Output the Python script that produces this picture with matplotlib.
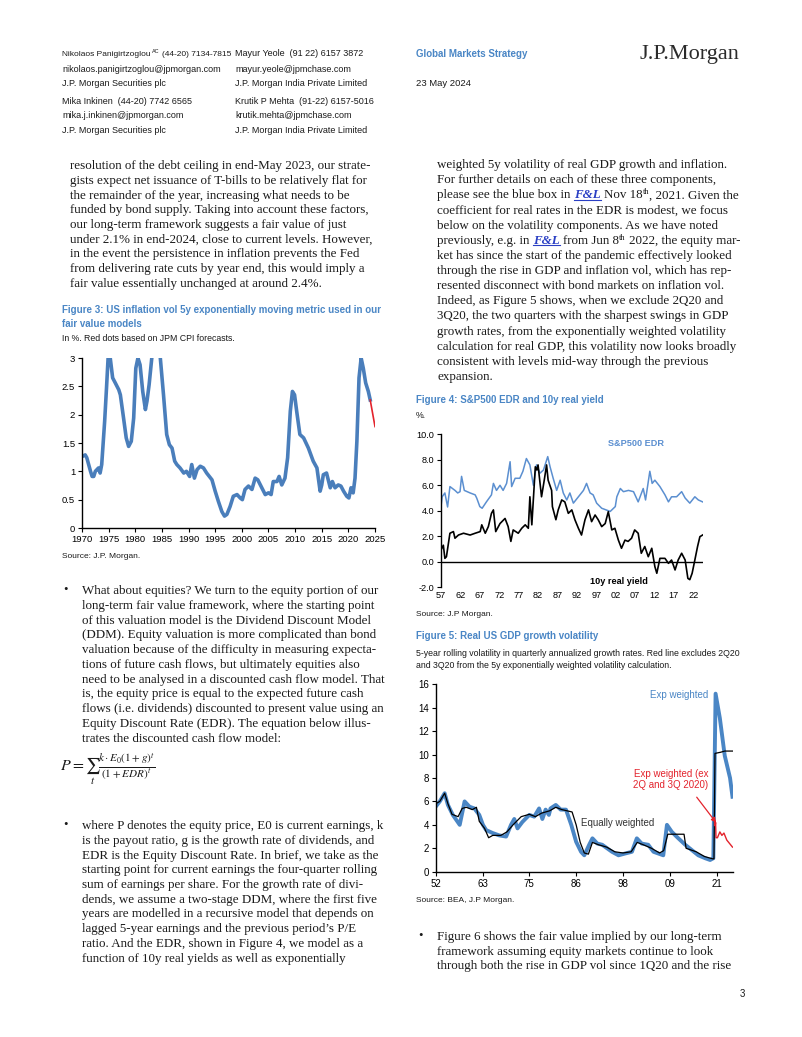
import matplotlib
matplotlib.use('Agg')
import matplotlib.pyplot as plt
from matplotlib.lines import Line2D

# ---- data: Figure 3 (US inflation vol, %)
fig3_years = [1970, 1970.6, 1970.9, 1971.6, 1971.9, 1972.2, 1972.5, 1972.8, 1973.1, 1973.4, 1973.7,
              1974.25, 1974.6, 1974.9, 1975.15, 1975.3, 1975.75, 1976.25, 1976.9, 1977.2, 1977.8,
              1978.3, 1978.75, 1979.25, 1979.7, 1980.1, 1980.5, 1980.9, 1981.4, 1981.9, 1982.2,
              1982.6, 1983.1, 1983.8, 1984.7, 1985.3, 1985.9, 1986.4, 1986.9, 1987.4, 1987.8,
              1988.4, 1989.1, 1989.6, 1990.2, 1990.6, 1991.1, 1991.6, 1992.2, 1992.8, 1993.4,
              1994.4, 1995.0, 1995.6, 1996.25, 1996.75, 1997.2, 1997.8, 1998.4, 1999.1, 1999.7,
              2000.1, 2000.6, 2001.25, 2001.9, 2002.5, 2003.0, 2003.75, 2004.4, 2005.0, 2005.5,
              2005.9, 2006.6, 2007.0, 2007.5, 2008.1, 2008.6, 2009.1, 2009.5, 2009.9, 2010.3,
              2010.9, 2011.6, 2011.9, 2012.5, 2013.4, 2014.1, 2014.7, 2015.0, 2015.3, 2015.9,
              2016.6, 2017.0, 2017.5, 2018.1, 2018.6, 2019.1, 2019.7, 2020.1, 2020.5, 2020.9,
              2021.25, 2021.6, 2022.0, 2022.4, 2022.8, 2023.25, 2023.75, 2024.1]
fig3_vol = [1.26, 1.29, 1.24, 1.0, 0.91, 0.91, 1.0, 1.03, 1.06, 0.97, 1.12,
            1.88, 2.47, 3.0, 3.3, 3.0, 2.65, 2.56, 2.44, 2.35, 1.94,
            1.59, 1.44, 1.53, 1.94, 2.82, 3.0, 2.88, 2.41, 2.09, 2.24,
            2.53, 3.0, 3.5, 3.0, 2.35, 1.65, 1.47, 1.41, 1.18, 1.12,
            1.06, 0.97, 1.0, 0.91, 1.12, 0.88, 1.03, 1.09, 1.06, 0.97,
            0.85, 0.65, 0.47, 0.29, 0.21, 0.24, 0.38, 0.56, 0.59, 0.53,
            0.5, 0.68, 0.74, 0.68, 0.88, 0.85, 0.71, 0.59, 0.62, 0.59,
            0.82, 0.82, 0.91, 0.76, 0.88, 1.24, 2.06, 2.41, 2.35, 2.06,
            1.65, 1.59, 1.53, 1.41, 1.18, 1.06, 0.65, 0.76, 0.94, 0.97,
            0.71, 0.82, 0.71, 0.76, 0.74, 0.65, 0.56, 0.53, 0.71, 0.62,
            0.88, 1.53, 2.65, 3.0, 2.82, 2.56, 2.41, 2.26]
fig3_fc_years = [2024.1, 2025.0]
fig3_fc_vol = [2.26, 1.79]

# ---- data: Figure 4 (S&P500 EDR and 10y real yield, %)
edr_years = [1957, 1957.3, 1958, 1958.7, 1959.3, 1960.6, 1961.3, 1961.9, 1962.3, 1963, 1964.5,
             1965.8, 1966.2, 1967.0, 1967.6, 1968.7, 1970, 1970.5, 1971.3, 1972.2, 1973, 1973.9,
             1974.8, 1975.2, 1976.1, 1977.3, 1978.1, 1979, 1979.9, 1980.8, 1981.6, 1982.5,
             1983.4, 1984.5, 1985.1, 1985.9, 1986.8, 1987.7, 1988.5, 1989.4, 1990.2, 1991.1,
             1992.4, 1993.7, 1994.5, 1995.4, 1996.2, 1997.1, 1998.4, 2000.6, 2001.9, 2002.3,
             2003.2, 2004.0, 2005.3, 2006.6, 2007.8, 2009.1, 2009.7, 2010.8, 2011.4, 2012.1,
             2013.4, 2014.7, 2015.6, 2016.4, 2017.7, 2019.0, 2019.9, 2021.1, 2022.4, 2023.3, 2024.4]
edr_vals = [4.33, 5.1, 5.4, 4.3, 5.9, 5.6, 5.4, 5.5, 6.7, 5.6, 5.4,
            5.25, 5.0, 4.33, 4.2, 4.7, 5.25, 6.15, 5.6, 6.0, 5.6, 6.15,
            7.85, 5.9, 6.55, 6.55, 7.1, 8.1, 7.6, 6.0, 7.6, 6.95,
            7.2, 8.25, 7.45, 6.55, 5.6, 6.4, 5.4, 4.85, 5.4, 4.6,
            5.1, 5.6, 6.15, 5.4, 5.25, 4.6, 4.2, 3.95, 4.33, 5.1,
            5.75, 5.5, 5.6, 5.5, 4.7, 5.75, 4.85, 7.1, 6.15, 6.4,
            5.9, 5.25, 4.7, 5.1, 5.1, 5.5, 5.0, 4.6, 5.1, 4.85, 4.7]
ry_years = [1957, 1957.6, 1958, 1958.4, 1959.3, 1960.2, 1960.6, 1961.5, 1962.8, 1964.5, 1965.8,
            1967.1, 1967.5, 1968.4, 1969.2, 1970, 1970.5, 1971.1, 1972.2, 1973.5, 1974.3, 1975,
            1975.6, 1976.9, 1977.8, 1978.7, 1979.5, 1979.9, 1980.4, 1981.3, 1981.7, 1982,
            1982.9, 1983.6, 1984.2, 1984.6, 1985.5, 1985.7, 1986.6, 1987.2, 1988.1, 1988.9,
            1989.8, 1990.7, 1991.5, 1992.4, 1993.2, 1994.1, 1995, 1995.8, 1996.7, 1997.5,
            1998.4, 1999.3, 2000.1, 2001.0, 2001.8, 2002.7, 2003.5, 2004.4, 2005.2, 2006.1,
            2006.9, 2007.8, 2008.6, 2009.5, 2010.4, 2011.3, 2012.1, 2012.6, 2013.4, 2014.7,
            2015.6, 2016.4, 2017.3, 2018.1, 2019.0, 2019.9, 2020.6, 2021.1, 2021.7, 2022.4,
            2023.1, 2023.7, 2024.4]
ry_vals = [0.93, 1.3, 0.27, 0.4, 2.24, 2.37, 1.85, 2.1, 2.24, 2.1, 2.24,
           2.37, 2.9, 2.24, 2.76, 3.8, 4.07, 2.37, 3.0, 3.4, 2.76, 1.6,
           2.5, 2.24, 2.63, 2.9, 2.63, 5.1, 2.9, 7.45, 7.2, 7.6,
           5.1, 6.4, 7.6, 6.4, 5.6, 4.33, 3.3, 4.07, 4.85, 4.7,
           3.8, 4.07, 3.3, 2.63, 2.1, 3.3, 4.07, 3.15, 3.67, 3.3,
           2.76, 3.0, 3.93, 2.5, 2.63, 1.7, 1.06, 1.7, 1.6, 1.85,
           2.5, 2.24, 0.67, 1.2, 0.4, 1.06, -0.38, -0.9, 0.27, 0.27,
           -0.12, 0.14, -0.64, 0.14, 0.67, 0.14, -1.3, -1.4, -0.9, 0.14,
           1.2, 1.97, 2.1]

# ---- data: Figure 5 (real GDP growth volatility)
exp_years = [1952, 1953, 1954.2, 1955, 1956.2, 1957.9, 1959.1, 1960.3, 1961.5, 1962.7, 1963.6,
             1964.4, 1966, 1967.6, 1969.3, 1970.5, 1971.3, 1972.1, 1973.3, 1975, 1976.2, 1977.4,
             1978.2, 1979, 1979.8, 1980.2, 1981.5, 1982.7, 1984, 1985.3, 1986.5, 1987.7, 1988.5,
             1989.7, 1990.5, 1991.7, 1992.9, 1995.3, 1996.9, 1998.5, 2000.2, 2001.4, 2002.6,
             2004.2, 2005.5, 2006.7, 2007.9, 2008.8, 2010, 2011.6, 2013.3, 2014.9, 2016.5,
             2018.2, 2019.4, 2020.2, 2020.75, 2021.8, 2023, 2024.3, 2024.9]
exp_vals = [5.55, 6.0, 6.7, 5.7, 4.85, 4.0, 6.0, 5.55, 5.4, 4.85, 4.0,
            3.55, 3.3, 3.1, 3.0, 4.0, 4.5, 3.7, 4.25, 4.85, 4.7, 5.4,
            4.5, 5.3, 4.85, 5.4, 5.7, 5.3, 5.3, 4.0, 2.55, 1.7, 1.4,
            2.3, 2.85, 2.4, 2.3, 1.7, 1.4, 1.55, 1.7, 2.85, 2.4,
            2.3, 1.7, 1.55, 1.4, 4.0, 3.4, 2.85, 2.3, 1.85, 1.4,
            1.15, 1.0, 1.15, 15.2, 13.1, 9.9, 8.0, 6.4]
eq_years = [1952, 1953, 1954.2, 1955, 1956, 1957.5, 1958.5, 1959.5, 1961, 1962, 1962.7,
            1964, 1965, 1966, 1968, 1969.5, 1971, 1973, 1975, 1976.5, 1978, 1980, 1981.5,
            1983, 1985.5, 1986.5, 1987.5, 1988.5, 1989.5, 1990.5, 1992, 1994, 1996, 1998,
            2000, 2001.5, 2003, 2005, 2007, 2008, 2009, 2011, 2013, 2013.5, 2016, 2018, 2020,
            2020.35, 2020.6, 2022, 2023, 2024.9]
eq_vals = [5.8, 6.0, 6.7, 5.8, 4.9, 4.7, 5.4, 5.5, 5.3, 5.5, 4.3,
           3.7, 2.9, 3.1, 3.1, 3.4, 4.0, 4.7, 4.9, 4.7, 5.0, 5.2, 5.5,
           5.3, 5.1, 4.0, 2.5, 1.6, 1.5, 2.5, 2.3, 2.1, 1.7, 1.6,
           1.7, 2.5, 2.3, 2.0, 1.6, 1.8, 3.2, 3.2, 3.2, 2.0, 1.7, 1.3, 1.1,
           1.1, 10.1, 10.2, 10.3, 10.3]
exx_years = [2020.55, 2020.65, 2020.75, 2020.85, 2021.2, 2021.8, 2022.3, 2022.8, 2023.5, 2024.9]
exx_vals = [4.3, 3.9, 4.2, 2.9, 2.9, 3.4, 3.1, 3.3, 2.7, 2.1]

fig5_tick_pos = [1952, 1963.5, 1975, 1986.5, 1998, 2009.5, 2021]
fig5_tick_lab = ['52', '63', '75', '86', '98', '09', '21']

# ---- styling
W, H = 802, 1037
BLUE = '#4a86c5'
LINE_BLUE = '#4a7ebb'
RED = '#e3232c'
TXT = '#1a1a1a'
SERIF = ['Liberation Serif', 'DejaVu Serif']
SANS = ['Liberation Sans', 'DejaVu Sans']
BODY = 9.4
HEAD = 6.5
TITLE = 7.0
SMALL = 6.3

plt.rcParams['mathtext.fontset'] = 'stix'

fig = plt.figure(figsize=(W / 100, H / 100), dpi=100)
renderer = fig.canvas.get_renderer()


def fx(x):
    return x / W


def fy(y):
    return 1 - y / H


def txt(x, y, s, size=HEAD, family=SANS, **kw):
    kw.setdefault('va', 'center')
    kw.setdefault('color', TXT)
    return fig.text(fx(x), fy(y), s, size=size, family=family, **kw)


def rich(x, y, parts, size=BODY, family=SERIF, up=4):
    # y = text centre; parts drawn left to right
    base = y + up
    for p in parts:
        if isinstance(p, str):
            p = (p, {})
        s, kw = p
        kw = dict(kw)
        dy = kw.pop('dy', 0)
        ul = kw.pop('ul', False)
        sz = kw.pop('size', size)
        lead = len(s) - len(s.lstrip(' '))
        trail = len(s) - len(s.rstrip(' '))
        sp = sz * 100 / 72 * 0.26
        x += lead * sp
        core = s.strip(' ')
        t = fig.text(fx(x), fy(base + dy), core, size=sz, family=family, va='baseline',
                     color=kw.pop('color', TXT), **kw)
        w = t.get_window_extent(renderer).width
        if ul:
            fig.add_artist(Line2D([fx(x), fx(x + w)], [fy(base + 1.5)] * 2, color='#2a3fc4', lw=0.8))
        x += w + trail * sp


def body(x, y0, lines, step=14.75):
    for i, ln in enumerate(lines):
        rich(x, y0 + i * step, ln if isinstance(ln, list) else [ln])


def axes_px(l, t, r, b):
    ax = fig.add_axes([fx(l), fy(b), (r - l) / W, (b - t) / H])
    ax.set_facecolor('none')
    for s in ['top', 'right']:
        ax.spines[s].set_visible(False)
    for s in ['left', 'bottom']:
        ax.spines[s].set_linewidth(1.0)
    ax.tick_params(labelsize=7.0, length=3, width=0.8, pad=2)
    return ax


def sans_ticks(ax):
    for lab in ax.get_xticklabels() + ax.get_yticklabels():
        lab.set_family(SANS)


# ---- header
rich(62, 54, ['Nikolaos Panigirtzoglou', (' AC', {'size': 4.0, 'dy': -3}), ' (44-20) 7134-7815'],
     size=6.0, family=SANS, up=2.3)
txt(62, 69, 'nikolaos.panigirtzoglou@jpmorgan.com')
txt(62, 84, 'J.P. Morgan Securities plc')
txt(62, 101, 'Mika Inkinen  (44-20) 7742 6565')
txt(62, 116, 'mika.j.inkinen@jpmorgan.com')
txt(62, 131, 'J.P. Morgan Securities plc')
txt(235, 54, 'Mayur Yeole  (91 22) 6157 3872')
txt(235, 69, 'mayur.yeole@jpmchase.com')
txt(235, 84, 'J.P. Morgan India Private Limited')
txt(235, 101, 'Krutik P Mehta  (91-22) 6157-5016')
txt(235, 116, 'krutik.mehta@jpmchase.com')
txt(235, 131, 'J.P. Morgan India Private Limited')
txt(416, 54, 'Global Markets Strategy', size=7.0, color=BLUE, weight='bold')
txt(416, 83, '23 May 2024', size=6.8)
txt(640, 55, 'J.P.Morgan', size=16, family=SERIF, color='#2b2b2b')

# ---- left column text
body(70, 165, [
    'resolution of the debt ceiling in end-May 2023, our strate-',
    'gists expect net issuance of T-bills to be relatively flat for',
    'the remainder of the year, increasing what needs to be',
    'funded by bond supply. Taking into account these factors,',
    'our long-term framework suggests a fair value of just',
    'under 2.1% in end-2024, close to current levels. However,',
    'in the event the persistence in inflation prevents the Fed',
    'from delivering rate cuts by year end, this would imply a',
    'fair value essentially unchanged at around 2.4%.',
])

txt(62, 310, 'Figure 3: US inflation vol 5y exponentially moving metric used in our',
    size=TITLE, color=BLUE, weight='bold')
txt(62, 324, 'fair value models', size=TITLE, color=BLUE, weight='bold')
txt(62, 338, 'In %. Red dots based on JPM CPI forecasts.', size=SMALL)

ax3 = axes_px(82, 358, 375, 528)
ax3.plot(fig3_years, fig3_vol, color=LINE_BLUE, lw=2.6, solid_joinstyle='round')
ax3.plot(fig3_fc_years, fig3_fc_vol, color=RED, lw=1.2)
ax3.set_xlim(1970, 2025)
ax3.set_ylim(0, 3)
ax3.set_xticks(range(1970, 2030, 5))
ax3.set_yticks([0, 0.5, 1, 1.5, 2, 2.5, 3])
ax3.set_yticklabels(['0', '0.5', '1', '1.5', '2', '2.5', '3'])
ax3.tick_params(labelsize=6.8)
sans_ticks(ax3)
txt(62, 557, 'Source: J.P. Morgan.', size=6.0)

txt(63, 590, '\u2022', size=9, family=SERIF)
body(82, 590, [
    'What about equities? We turn to the equity portion of our',
    'long-term fair value framework, where the starting point',
    'of this valuation model is the Dividend Discount Model',
    '(DDM). Equity valuation is more complicated than bond',
    'valuation because of the difficulty in measuring expecta-',
    'tions of future cash flows, but ultimately equities also',
    'need to be analysed in a discounted cash flow model. That',
    'is, the equity price is equal to the expected future cash',
    'flows (i.e. dividends) discounted to present value using an',
    'Equity Discount Rate (EDR). The equation below illus-',
    'trates the discounted cash flow model:',
])
fig.text(fx(60), fy(769), r'$P=\sum_{t}\frac{k\cdot E_0(1+g)^t}{(1+EDR)^t}$',
         size=11.5, va='center', color=TXT)

txt(63, 825, '\u2022', size=9, family=SERIF)
body(82, 825, [
    'where P denotes the equity price, E0 is current earnings, k',
    'is the payout ratio, g is the growth rate of dividends, and',
    'EDR is the Equity Discount Rate. In brief, we take as the',
    'starting point for current earnings the four-quarter rolling',
    'sum of earnings per share. For the growth rate of divi-',
    'dends, we assume a two-stage DDM, where the first five',
    'years are modelled in a recursive model that depends on',
    'lagged 5-year earnings and the previous period\u2019s P/E',
    'ratio. And the EDR, shown in Figure 4, we model as a',
    'function of 10y real yields as well as exponentially',
])

# ---- right column text
FL = ('F&L', {'color': '#2a3fc4', 'style': 'italic', 'weight': 'bold', 'ul': True})
SUP = {'size': 6, 'dy': -4}
body(437, 164, [
    'weighted 5y volatility of real GDP growth and inflation.',
    'For further details on each of these three components,',
    ['please see the blue box in ', FL, ' Nov 18', ('th', SUP), ', 2021. Given the'],
    'coefficient for real rates in the EDR is modest, we focus',
    'below on the volatility components. As we have noted',
    ['previously, e.g. in ', FL, ' from Jun 8', ('th', SUP), ' 2022, the equity mar-'],
    'ket has since the start of the pandemic effectively looked',
    'through the rise in GDP and inflation vol, which has rep-',
    'resented disconnect with bond markets on inflation vol.',
    'Indeed, as Figure 5 shows, when we exclude 2Q20 and',
    '3Q20, the two quarters with the sharpest swings in GDP',
    'growth rates, from the exponentially weighted volatility',
    'calculation for real GDP, this volatility now looks broadly',
    'consistent with levels mid-way through the previous',
    'expansion.',
], step=15.15)

txt(416, 400, 'Figure 4: S&P500 EDR and 10y real yield', size=TITLE, color=BLUE, weight='bold')
txt(416, 416, '%.', size=SMALL)
ax4 = axes_px(441, 434.3, 703, 587.3)
ax4.plot(edr_years, edr_vals, color='#5b8fd0', lw=1.1)
ax4.plot(ry_years, ry_vals, color='black', lw=1.2)
ax4.axhline(0, color='black', lw=1.0)
ax4.spines['bottom'].set_visible(False)
ax4.set_xlim(1957, 2024.5)
ax4.set_ylim(-2, 10)
ax4.set_xticks(range(1957, 2023, 5))
ax4.set_xticklabels(['%02d' % (y % 100) for y in range(1957, 2023, 5)])
ax4.tick_params(axis='x', length=0, pad=3)
ax4.set_yticks(range(-2, 11, 2))
ax4.set_yticklabels(['%.1f' % v for v in range(-2, 11, 2)])
ax4.tick_params(labelsize=6.6)
sans_ticks(ax4)
ax4.text(2007.2, 9.24, 'S&P500 EDR', color='#5b8fd0', size=6.6, weight='bold',
         family=SANS, ha='center', va='center')
ax4.text(2002.8, -1.55, '10y real yield', color='black', size=6.6, weight='bold',
         family=SANS, ha='center', va='center')
txt(416, 614, 'Source: J.P Morgan.', size=6.0)

txt(416, 636, 'Figure 5: Real US GDP growth volatility', size=TITLE, color=BLUE, weight='bold')
txt(416, 653, '5-year rolling volatility in quarterly annualized growth rates. Red line excludes 2Q20',
    size=SMALL)
txt(416, 665, 'and 3Q20 from the 5y exponentially weighted volatility calculation.', size=SMALL)
ax5 = axes_px(435.7, 684.3, 733.3, 871.7)
ax5.plot(exp_years, exp_vals, color='#4a86c5', lw=2.8, solid_joinstyle='round')
ax5.plot(eq_years, eq_vals, color='black', lw=0.9)
ax5.plot(exx_years, exx_vals, color=RED, lw=1.0)
ax5.set_xlim(1952, 2025.1)
ax5.set_ylim(0, 16)
ax5.set_xticks(fig5_tick_pos)
ax5.set_xticklabels(fig5_tick_lab)
ax5.set_yticks(range(0, 17, 2))
ax5.tick_params(labelsize=7.0)
sans_ticks(ax5)
ax5.text(2018.9, 15.1, 'Exp weighted', color='#4a86c5', size=7.0, family=SANS,
         ha='right', va='center')
ax5.text(1996.7, 4.17, 'Equally weighted', color='#333333', size=7.0, family=SANS,
         ha='center', va='center')
ax5.text(2009.8, 7.9, 'Exp weighted (ex\n2Q and 3Q 2020)', color=RED, size=7.0,
         family=SANS, ha='center', va='center', linespacing=1.1)
ax5.annotate('', xy=(2021.3, 4.0), xytext=(2015.7, 6.55),
             arrowprops=dict(arrowstyle='-|>', color=RED, lw=0.9, mutation_scale=7))
txt(416, 900, 'Source: BEA, J.P Morgan.', size=6.0)

txt(418, 936, '\u2022', size=9, family=SERIF)
body(437, 936, [
    'Figure 6 shows the fair value implied by our long-term',
    'framework assuming equity markets continue to look',
    'through both the rise in GDP vol since 1Q20 and the rise',
], step=14.6)
txt(740, 994, '3', size=7.0)

fig.savefig('out.png', dpi=100)
